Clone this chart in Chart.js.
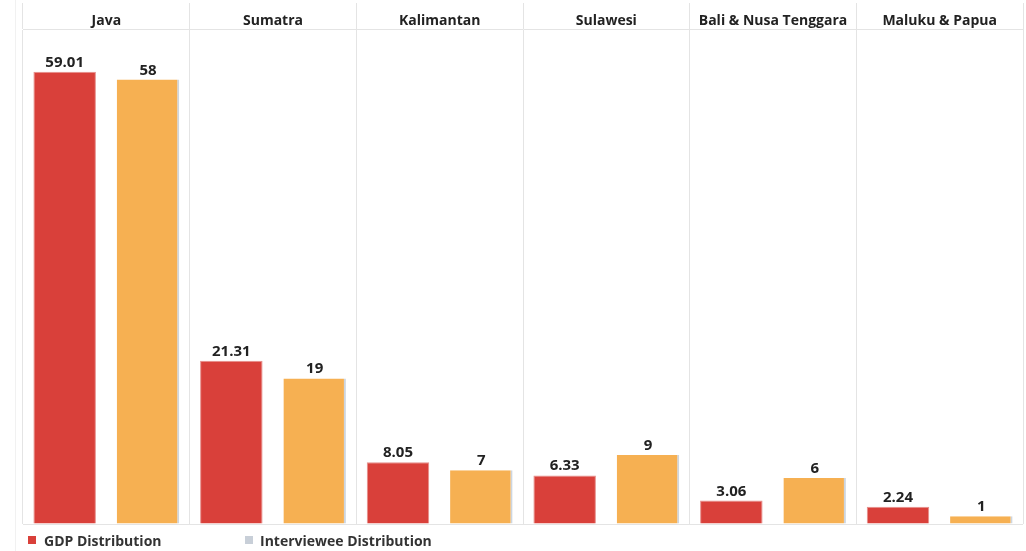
<!DOCTYPE html>
<html>
<head>
<meta charset="utf-8">
<script src="https://cdn.jsdelivr.net/npm/chart.js@4/dist/chart.umd.min.js"></script>
<style>
  html, body { margin: 0; padding: 0; background: #ffffff; }
  #wrap { position: relative; width: 1026px; height: 551px; }
  #edge { position: absolute; left: 15px; top: 0; width: 0; height: 551px; border-left: 1px solid #f1f1f1; }
  canvas { position: absolute; left: 0; top: 0; }
  .leg { position: absolute; top: 532px; font: bold 14px "Open Sans", Lato, sans-serif; color: #333; line-height: 18px; white-space: nowrap; }
  .sw { position: absolute; top: 536px; width: 8px; height: 8px; }
</style>
</head>
<body>
<div id="wrap">
  <div id="edge"></div>
  <canvas id="c" width="1026" height="551"></canvas>
  <div class="sw" id="sw1" style="left:28px;"></div>
  <div class="leg" id="lg1" style="left:44px;"></div>
  <div class="sw" id="sw2" style="left:245px;"></div>
  <div class="leg" id="lg2" style="left:260px;"></div>
</div>
<script>
const categories = ["Java", "Sumatra", "Kalimantan", "Sulawesi", "Bali & Nusa Tenggara", "Maluku & Papua"];
const gdpValues = [59.01, 21.31, 8.05, 6.33, 3.06, 2.24];
const intervieweeValues = [58, 19, 7, 9, 6, 1];
const seriesNames = ["GDP Distribution", "Interviewee Distribution"];
const gdpColor = "#d9403a";
const intervieweeColor = "#f6b052";
const legendColors = [gdpColor, "#c8cfd8"];

document.getElementById('sw1').style.background = legendColors[0];
document.getElementById('sw2').style.background = legendColors[1];
document.getElementById('lg1').textContent = seriesNames[0];
document.getElementById('lg2').textContent = seriesNames[1];

const labelPlugin = {
  id: 'valueLabels',
  afterDatasetsDraw(chart) {
    const ctx = chart.ctx;
    ctx.save();
    ctx.font = 'bold 15px "Open Sans", Lato, sans-serif';
    ctx.fillStyle = '#222222';
    ctx.textAlign = 'center';
    ctx.textBaseline = 'alphabetic';
    chart.data.datasets.forEach((ds, i) => {
      const meta = chart.getDatasetMeta(i);
      meta.data.forEach((el, j) => {
        ctx.fillText(String(ds.data[j]), el.x, el.y - 5);
      });
    });
    ctx.restore();
  }
};

new Chart(document.getElementById('c'), {
  type: 'bar',
  data: {
    labels: categories,
    datasets: [
      {
        label: seriesNames[0],
        data: gdpValues,
        backgroundColor: gdpColor,
        borderColor: '#e58f8b',
        borderWidth: 1,
        borderSkipped: 'bottom'
      },
      {
        label: seriesNames[1],
        data: intervieweeValues,
        backgroundColor: intervieweeColor,
        borderColor: '#cdd5df',
        borderWidth: { right: 2, top: 0, left: 0, bottom: 0 },
        borderSkipped: false
      }
    ]
  },
  options: {
    responsive: false,
    animation: false,
    events: [],
    layout: { padding: { left: 23, right: 3, top: 0, bottom: 27 } },
    plugins: {
      legend: { display: false },
      tooltip: { enabled: false }
    },
    datasets: {
      bar: { categoryPercentage: 1.0, barPercentage: 0.75 }
    },
    scales: {
      x: {
        position: 'top',
        offset: true,
        grid: {
          offset: true,
          color: '#e4e4e4',
          lineWidth: 1,
          drawTicks: true,
          tickLength: 26,
          tickColor: '#e4e4e4'
        },
        border: { display: true, color: '#e4e4e4', width: 1 },
        ticks: {
          color: '#222222',
          font: { family: '"Open Sans", Lato, sans-serif', size: 14, weight: 'bold' },
          padding: -26,
          maxRotation: 0,
          autoSkip: false
        },
        afterFit(scale) { scale.height = 29; }
      },
      y: {
        display: true,
        min: 0,
        max: 64.6,
        ticks: { display: false },
        grid: {
          drawTicks: false,
          color: (c) => (c.tick && c.tick.value === 0 ? '#e4e4e4' : 'rgba(0,0,0,0)'),
          lineWidth: 1
        },
        border: { display: false },
        afterFit(scale) { scale.width = 0; }
      }
    }
  },
  plugins: [labelPlugin]
});
</script>
</body>
</html>
